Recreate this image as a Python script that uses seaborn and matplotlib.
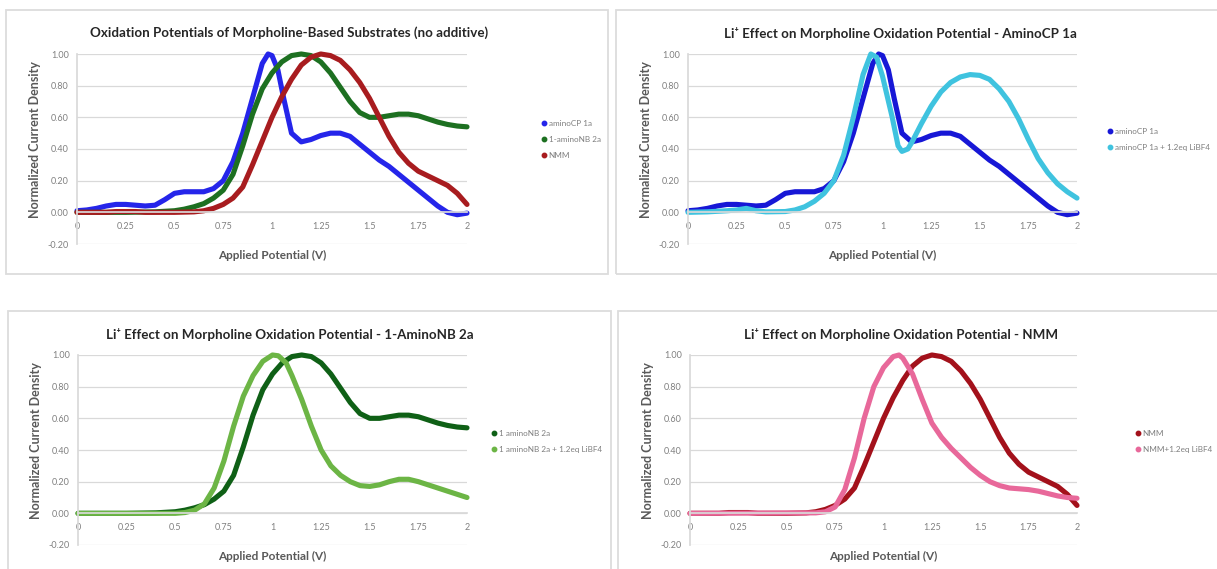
import matplotlib.pyplot as plt
import matplotlib.patches as mpatches
from matplotlib.lines import Line2D
import seaborn as sns

# --- data (normalized current density vs applied potential) ---

# aminoCP 1a
x_cp = [0, 0.05, 0.1, 0.15, 0.2, 0.25, 0.3, 0.35, 0.4, 0.45, 0.5, 0.55, 0.6, 0.65, 0.7,
        0.75, 0.8, 0.85, 0.9, 0.95, 0.98, 1.0, 1.03, 1.06, 1.1, 1.15, 1.2, 1.25, 1.3,
        1.35, 1.4, 1.45, 1.5, 1.55, 1.6, 1.65, 1.7, 1.75, 1.8, 1.85, 1.9, 1.95, 2.0]
y_cp = [0.01, 0.015, 0.025, 0.04, 0.05, 0.05, 0.045, 0.04, 0.045, 0.08, 0.12, 0.13, 0.13,
        0.13, 0.15, 0.2, 0.32, 0.5, 0.72, 0.94, 1.0, 0.99, 0.9, 0.72, 0.5, 0.445, 0.46,
        0.485, 0.5, 0.5, 0.48, 0.43, 0.38, 0.33, 0.29, 0.24, 0.19, 0.14, 0.09, 0.04, 0.0,
        -0.015, -0.005]

# aminoCP 1a + 1.2eq LiBF4
x_cp_li = [0, 0.1, 0.2, 0.25, 0.3, 0.35, 0.4, 0.5, 0.55, 0.6, 0.65, 0.7, 0.75, 0.8, 0.85,
           0.9, 0.94, 0.97, 1.0, 1.05, 1.08, 1.1, 1.13, 1.15, 1.2, 1.25, 1.3, 1.35, 1.4,
           1.45, 1.5, 1.55, 1.6, 1.65, 1.7, 1.75, 1.8, 1.85, 1.9, 1.95, 2.0]
y_cp_li = [0.0, 0.003, 0.01, 0.015, 0.025, 0.01, 0.003, 0.005, 0.015, 0.035, 0.07, 0.12,
           0.2, 0.36, 0.6, 0.87, 1.0, 0.98, 0.86, 0.6, 0.42, 0.385, 0.4, 0.44, 0.56, 0.67,
           0.76, 0.82, 0.855, 0.87, 0.865, 0.84, 0.78, 0.7, 0.59, 0.46, 0.34, 0.25, 0.18,
           0.13, 0.09]

# 1-aminoNB 2a
x_nb = [0, 0.25, 0.4, 0.5, 0.55, 0.6, 0.65, 0.7, 0.75, 0.8, 0.85, 0.9, 0.95, 1.0, 1.05,
        1.1, 1.15, 1.2, 1.25, 1.3, 1.35, 1.4, 1.45, 1.5, 1.55, 1.6, 1.65, 1.7, 1.75, 1.8,
        1.85, 1.9, 1.95, 2.0]
y_nb = [0.0, 0.0, 0.003, 0.01, 0.02, 0.035, 0.055, 0.09, 0.14, 0.24, 0.42, 0.62, 0.78,
        0.88, 0.95, 0.99, 1.0, 0.99, 0.95, 0.88, 0.79, 0.7, 0.63, 0.6, 0.6, 0.61, 0.62,
        0.62, 0.61, 0.59, 0.57, 0.555, 0.545, 0.54]

# 1-aminoNB 2a + 1.2eq LiBF4
x_nb_li = [0, 0.5, 0.55, 0.6, 0.65, 0.7, 0.75, 0.8, 0.85, 0.9, 0.95, 1.0, 1.03, 1.07, 1.1,
           1.15, 1.2, 1.25, 1.3, 1.35, 1.4, 1.45, 1.5, 1.55, 1.6, 1.65, 1.7, 1.75, 1.8,
           1.85, 1.9, 1.95, 2.0]
y_nb_li = [0.0, 0.0, 0.005, 0.02, 0.06, 0.16, 0.33, 0.55, 0.74, 0.87, 0.96, 1.0, 0.995,
           0.95, 0.87, 0.72, 0.55, 0.4, 0.3, 0.24, 0.2, 0.175, 0.17, 0.18, 0.2, 0.215,
           0.215, 0.2, 0.18, 0.16, 0.14, 0.12, 0.1]

# NMM
x_nmm = [0, 0.15, 0.2, 0.3, 0.35, 0.5, 0.6, 0.65, 0.7, 0.75, 0.8, 0.85, 0.9, 0.95, 1.0,
         1.05, 1.1, 1.15, 1.2, 1.25, 1.3, 1.35, 1.4, 1.45, 1.5, 1.55, 1.6, 1.65, 1.7,
         1.75, 1.8, 1.85, 1.9, 1.95, 2.0]
y_nmm = [0.0, 0.0, 0.005, 0.005, 0.0, 0.0, 0.003, 0.01, 0.025, 0.05, 0.09, 0.16, 0.3,
         0.45, 0.6, 0.73, 0.84, 0.93, 0.98, 1.0, 0.99, 0.96, 0.9, 0.82, 0.72, 0.6, 0.48,
         0.38, 0.31, 0.26, 0.23, 0.2, 0.17, 0.12, 0.05]

# NMM + 1.2eq LiBF4
x_nmm_li = [0, 0.65, 0.7, 0.75, 0.8, 0.85, 0.9, 0.95, 1.0, 1.05, 1.08, 1.1, 1.15, 1.2,
            1.25, 1.3, 1.35, 1.4, 1.45, 1.5, 1.55, 1.6, 1.65, 1.7, 1.75, 1.8, 1.85, 1.9,
            1.95, 2.0]
y_nmm_li = [0.0, 0.003, 0.01, 0.04, 0.15, 0.35, 0.6, 0.8, 0.92, 0.99, 1.0, 0.98, 0.88,
            0.72, 0.57, 0.48, 0.41, 0.35, 0.29, 0.24, 0.2, 0.175, 0.16, 0.155, 0.15,
            0.14, 0.125, 0.11, 0.1, 0.095]

x_ticks = [0, 0.25, 0.5, 0.75, 1, 1.25, 1.5, 1.75, 2]
x_ticklabels = ["0", "0.25", "0.5", "0.75", "1", "1.25", "1.5", "1.75", "2"]
y_ticks = [-0.2, 0, 0.2, 0.4, 0.6, 0.8, 1.0]

# --- figure ---
sns.set_theme(style="white")
plt.rcParams['font.family'] = ['Lato', 'DejaVu Sans']

fig = plt.figure(figsize=(12.17, 5.69), dpi=100)

grey_txt = "#595959"
tick_c = "#808080"
grid_c = "#d9d9d9"

# panel frames (Excel chart borders)
for (x0, y0, x1, y1) in [(6, 10, 608, 274), (616, 10, 1222, 274),
                         (8, 311, 611, 575), (618, 311, 1222, 575)]:
    fig.patches.append(mpatches.Rectangle((x0 / 1217, 1 - y1 / 569), (x1 - x0) / 1217,
                                          (y1 - y0) / 569, transform=fig.transFigure,
                                          fill=False, edgecolor="#dcdcdc", lw=1.3))

panels = [
    dict(rect=[77 / 1217, 1 - 244 / 569, 390 / 1217, 190 / 569],
         title="Oxidation Potentials of Morpholine-Based Substrates (no additive)",
         series=[(x_cp, y_cp, "aminoCP 1a", "#2525ea"),
                 (x_nb, y_nb, "1-aminoNB 2a", "#1d7021"),
                 (x_nmm, y_nmm, "NMM", "#a81c1f")],
         leg=(542, 120)),
    dict(rect=[688 / 1217, 1 - 244 / 569, 389 / 1217, 190 / 569],
         title="Li\u207a Effect on Morpholine Oxidation Potential - AminoCP 1a",
         series=[(x_cp, y_cp, "aminoCP 1a", "#1717d6"),
                 (x_cp_li, y_cp_li, "aminoCP 1a + 1.2eq LiBF4", "#3fc3df")],
         leg=(1108, 128)),
    dict(rect=[78 / 1217, 1 - 545 / 569, 389 / 1217, 190 / 569],
         title="Li\u207a Effect on Morpholine Oxidation Potential - 1-AminoNB 2a",
         series=[(x_nb, y_nb, "1 aminoNB 2a", "#0f6016"),
                 (x_nb_li, y_nb_li, "1 aminoNB 2a + 1.2eq LiBF4", "#6cb545")],
         leg=(492, 430)),
    dict(rect=[690 / 1217, 1 - 545 / 569, 387 / 1217, 190 / 569],
         title="Li\u207a Effect on Morpholine Oxidation Potential - NMM",
         series=[(x_nmm, y_nmm, "NMM", "#a3111b"),
                 (x_nmm_li, y_nmm_li, "NMM+1.2eq LiBF4", "#e8689a")],
         leg=(1136, 430)),
]

for p in panels:
    ax = fig.add_axes(p["rect"])
    for xs, ys, lab, col in p["series"]:
        sns.lineplot(x=xs, y=ys, ax=ax, color=col, linewidth=3.7, clip_on=False,
                     solid_capstyle="round", solid_joinstyle="round")
    for s in ["top", "right"]:
        ax.spines[s].set_visible(False)
    ax.spines["left"].set_color(grid_c)
    ax.spines["bottom"].set_position(("data", 0))
    ax.spines["bottom"].set_color(grid_c)
    ax.set_xlim(0, 2)
    ax.set_ylim(-0.2, 1.0)
    ax.set_yticks(y_ticks)
    ax.set_yticklabels(["%.2f" % v for v in y_ticks])
    ax.set_xticks(x_ticks)
    ax.set_xticklabels(x_ticklabels)
    ax.tick_params(axis="both", length=0, labelsize=6.5, labelcolor=tick_c)
    ax.tick_params(axis="y", pad=6)
    ax.tick_params(axis="x", pad=7)
    ax.grid(axis="y", color=grid_c, lw=0.9)
    ax.set_axisbelow(True)
    ax.set_xlabel("")
    ax.set_ylabel("Normalized Current Density", fontsize=9, fontweight="bold",
                  color=grey_txt)
    ax.yaxis.set_label_coords(-0.093, 0.55)
    ax.text(0.5, -0.06, "Applied Potential (V)", transform=ax.transAxes, ha="center",
            va="center", fontsize=8.5, fontweight="bold", color=grey_txt)
    ax.text(0.545, 1.11, p["title"], transform=ax.transAxes, ha="center", va="center",
            fontsize=9.6, fontweight="bold", color="#262626")
    handles = [Line2D([], [], marker="o", ls="none", color=c, markersize=3.2)
               for _, _, _, c in p["series"]]
    labels = [lab for _, _, lab, _ in p["series"]]
    lx, ly = p["leg"]
    ax.legend(handles, labels, loc="upper left", bbox_to_anchor=(lx / 1217, 1 - ly / 569),
              bbox_transform=fig.transFigure, frameon=False, fontsize=5.9,
              labelcolor="#7f7f7f", handlelength=0.5, handletextpad=0.3,
              labelspacing=1.1, borderpad=0, borderaxespad=0)

plt.savefig("out.png", dpi=100)
